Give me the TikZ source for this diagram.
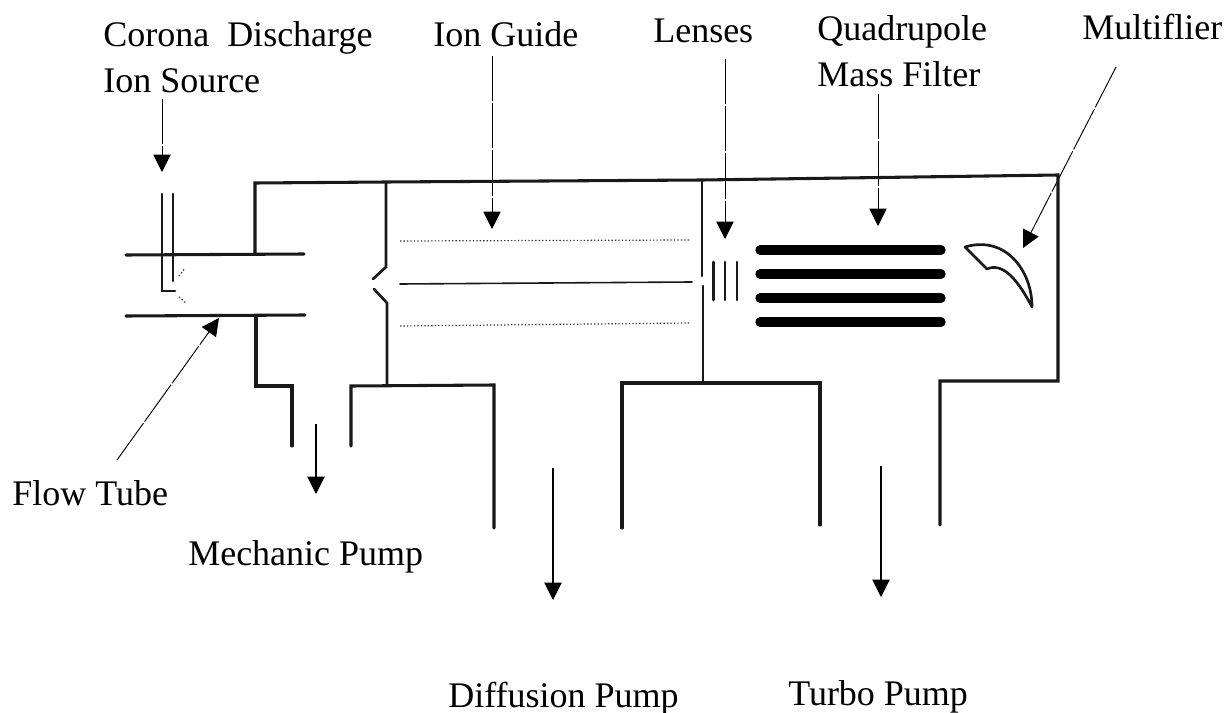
\documentclass[tikz,border=0pt]{standalone}
\usepackage{fontspec}
\setmainfont{Liberation Serif}
\usetikzlibrary{arrows.meta}
\tikzset{%
  wall/.style={line width=2.3pt,line cap=round,line join=miter,draw=black!90},
  thinwall/.style={line width=2pt,line cap=round,draw=black!90},
  rod/.style={line width=7pt,line cap=round,draw=black},
  guide/.style={line width=0.9pt,dash pattern=on 1pt off 1.6pt,draw=black!80},
  labeltext/.style={inner sep=0pt,anchor=base west,align=left,font=\fontsize{27}{34.5}\selectfont},
  labelarrow/.style={-{Triangle[length=13pt,width=13pt]},line width=0.7pt,dash pattern=on 34pt off 1.5pt,draw=black},
  pumparrow/.style={-{Triangle[length=13pt,width=13pt]},line width=0.8pt,draw=black}
}
\begin{document}
\begin{tikzpicture}[x=0.75pt,y=-0.75pt]
    \useasboundingbox (0,0) rectangle (1225,713);

    % labels
    \node[labeltext] (corona) at (103,93) {Corona\ \ Discharge\\Ion Source};
    \node[labeltext] (ionguide) at (433,47) {Ion Guide};
    \node[labeltext] (lenses) at (653,43) {Lenses};
    \node[labeltext] (quad) at (817,87) {Quadrupole\\Mass Filter};
    \node[labeltext] (multi) at (1082,40) {Multiflier};
    \node[labeltext] (flowtube) at (12,505) {Flow Tube};
    \node[labeltext] (mechanic) at (188,565) {Mechanic Pump};
    \node[labeltext] (diffusion) at (448,707) {Diffusion Pump};
    \node[labeltext] (turbo) at (788,705) {Turbo Pump};

    % arrow tips
    \coordinate (coronatip) at (162,172);
    \coordinate (guidetip) at (492,229);
    \coordinate (lensestip) at (725,239);
    \coordinate (quadtip) at (878,226);
    \coordinate (multitip) at (1023,248);
    \coordinate (flowtip) at (219,318);
    \coordinate (mechstart) at (316,424);
    \coordinate (mechtip) at (316,494);
    \coordinate (diffstart) at (553,468);
    \coordinate (difftip) at (553,600);
    \coordinate (turbostart) at (881,466);
    \coordinate (turbotip) at (881,597);

    \draw[labelarrow] (coronatip |- corona.south) ++(0,5) -- (coronatip);
    \draw[labelarrow] (guidetip |- ionguide.south) ++(0,8) -- (guidetip);
    \draw[labelarrow] (lensestip |- lenses.south) ++(0,15) -- (lensestip);
    \draw[labelarrow] (quadtip |- quad.south) ++(0,6) -- (quadtip);
    \draw[labelarrow] (1116,67) -- (multitip);
    \draw[labelarrow] (117,460) -- (flowtip);
    \draw[pumparrow] (mechstart) -- (mechtip);
    \draw[pumparrow] (diffstart) -- (difftip);
    \draw[pumparrow] (turbostart) -- (turbotip);

    % ion source and flow tube
    \draw[thinwall] (162,194) -- (162,291) -- (175,291);
    \draw[thinwall] (173,194) -- (173,281);
    \draw[wall] (126,255) -- (304,254);
    \draw[wall] (126,316) -- (305,315);
    \draw[guide] (179,276) -- (185,268);
    \draw[guide] (179,297) -- (186,303);

    % vacuum chamber
    \draw[wall] (255,254) -- (255,183) -- (386,182) -- (702,180) -- (1058,175) -- (1058,381) -- (940,381) -- (940,525);
    \draw[wall] (256,316) -- (256,386) -- (292,386) -- (292,446);
    \draw[wall] (351,446) -- (351,386) -- (494,385) -- (494,528);
    \draw[wall] (622,528) -- (622,383) -- (820,383) -- (820,525);
    \draw[thinwall] (386,182) -- (386,267) -- (373,279);
    \draw[thinwall] (374,289) -- (387,303) -- (387,385);
    \draw[thinwall] (702,180) -- (702,276);
    \draw[thinwall] (703,286) -- (703,383);

    % ion guide
    \draw[guide] (400,241) -- (690,240);
    \draw[thinwall,line width=1.2pt] (400,284) -- (692,282);
    \draw[guide] (400,326) -- (690,323);

    % lenses
    \foreach \lx in {713.5,725,737}
      \draw[thinwall] (\lx,262) -- (\lx,300);

    % quadrupole rods
    \foreach \ry in {250,274,298,322}
      \draw[rod] (760,\ry) -- (941,\ry);

    % multiplier
    \draw[thinwall,line join=round] (965,247) -- (987,269)
      .. controls (1003,262) and (1018,280) .. (1032,307)
      .. controls (1032,270) and (1005,235) .. (965,247);
\end{tikzpicture}
\end{document}
